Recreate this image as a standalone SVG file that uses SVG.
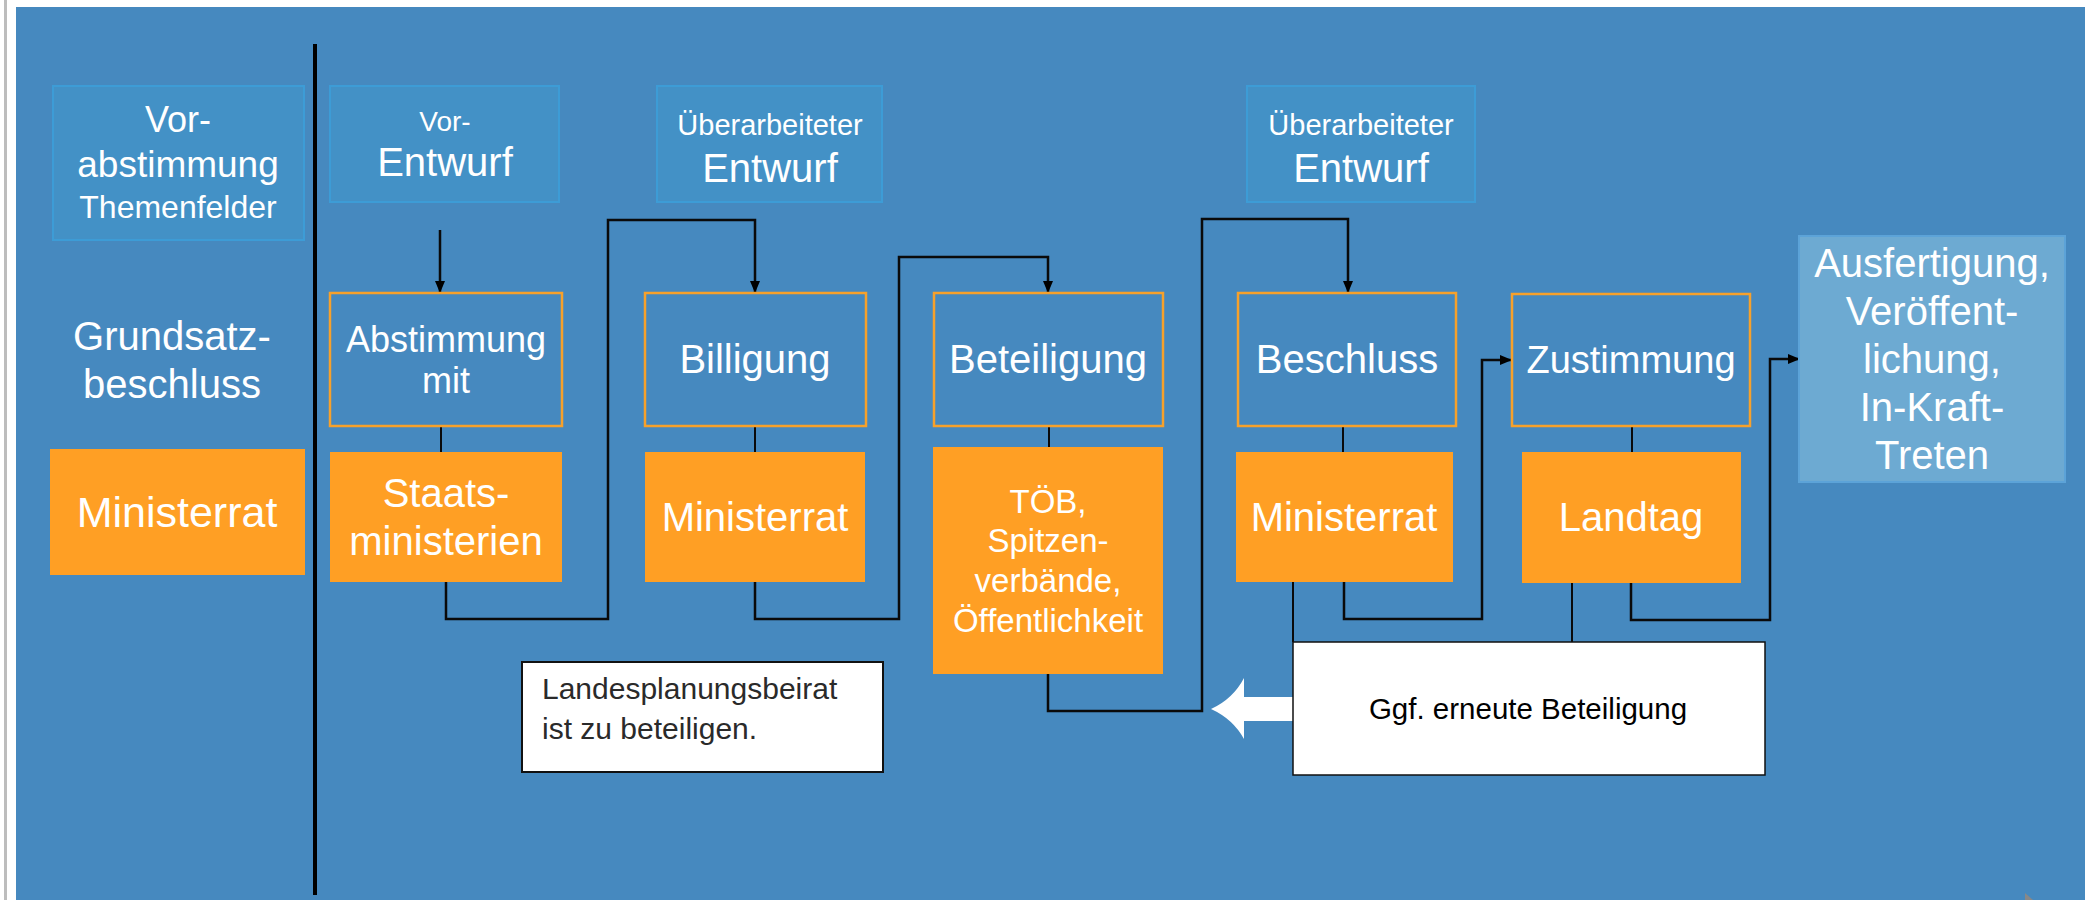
<svg xmlns="http://www.w3.org/2000/svg" width="2085" height="900" viewBox="0 0 2085 900">
<defs>
<marker id="ah" viewBox="0 0 12 10" refX="12" refY="5" markerWidth="12" markerHeight="10" markerUnits="userSpaceOnUse" orient="auto">
<path d="M0,0 L12,5 L0,10 Z" fill="#000"/>
</marker>
<style>
text{font-family:"Liberation Sans",Arial,Helvetica,sans-serif;fill:#fff;text-anchor:middle}
.top{fill:#4391C6;stroke:#3D9CD6;stroke-width:2}
.step{fill:#4689BF;stroke:#F7A12B;stroke-width:2.5}
.org{fill:#FF9F24}
.note{fill:#fff;stroke:#111;stroke-width:2}
.con{fill:none;stroke:#0a0a0a;stroke-width:2.5}
.tie{fill:none;stroke:#0a0a0a;stroke-width:2}
.dk{fill:#2a2a2a;text-anchor:start}
</style>
</defs>
<rect x="0" y="0" width="2085" height="900" fill="#fff"/>
<rect x="4" y="0" width="3" height="900" fill="#bdbdbd"/>
<rect x="16" y="7" width="2069" height="893" fill="#4689BF"/>
<polygon points="2025,893 2025,900 2033,900" fill="#888"/>

<line x1="315" y1="44" x2="315" y2="895" stroke="#000" stroke-width="4"/>

<g id="connectors">
<path class="con" d="M440,230 V293" marker-end="url(#ah)"/>
<path class="tie" d="M441,426 V452"/>
<path class="con" d="M446,582 V619 H608 V220 H755 V293" marker-end="url(#ah)"/>
<path class="tie" d="M755,426 V452"/>
<path class="con" d="M755,582 V619 H899 V257 H1048 V293" marker-end="url(#ah)"/>
<path class="tie" d="M1049,426 V448"/>
<path class="con" d="M1048,674 V711 H1202 V219 H1348 V293" marker-end="url(#ah)"/>
<path class="tie" d="M1343,426 V452"/>
<path class="con" d="M1344,582 V619 H1482 V360 H1512" marker-end="url(#ah)"/>
<path class="tie" d="M1632,426 V452"/>
<path class="con" d="M1631,583 V620 H1770 V359 H1800" marker-end="url(#ah)"/>
<path class="tie" d="M1293,582 V642"/>
<path class="tie" d="M1572,577 V642"/>
<path d="M1294,697 H1244 V678 Q1233,699 1211,709 Q1233,719 1244,739 V721 H1294 Z" fill="#fff"/>
</g>

<g id="vorabstimmung">
<rect class="top" x="53" y="86" width="251" height="154"/>
<text x="178" y="132" font-size="36">Vor-</text>
<text x="178" y="177" font-size="37">abstimmung</text>
<text x="178" y="218" font-size="32">Themenfelder</text>
</g>
<g id="grundsatz">
<text x="172" y="350" font-size="40">Grundsatz-</text>
<text x="172" y="398" font-size="40">beschluss</text>
</g>
<g id="ministerrat1">
<rect class="org" x="50" y="449" width="255" height="126"/>
<text x="177" y="527" font-size="43">Ministerrat</text>
</g>

<g id="vorentwurf">
<rect class="top" x="330" y="86" width="229" height="116"/>
<text x="445" y="131" font-size="28">Vor-</text>
<text x="445" y="176" font-size="40">Entwurf</text>
</g>
<g id="entwurf2">
<rect class="top" x="657" y="86" width="225" height="116"/>
<text x="770" y="135" font-size="29">Überarbeiteter</text>
<text x="770" y="182" font-size="40">Entwurf</text>
</g>
<g id="entwurf3">
<rect class="top" x="1247" y="86" width="228" height="116"/>
<text x="1361" y="135" font-size="29">Überarbeiteter</text>
<text x="1361" y="182" font-size="40">Entwurf</text>
</g>

<g id="abstimmung">
<rect class="step" x="330" y="293" width="232" height="133"/>
<text x="446" y="352" font-size="36">Abstimmung</text>
<text x="446" y="393" font-size="36">mit</text>
</g>
<g id="billigung">
<rect class="step" x="645" y="293" width="221" height="133"/>
<text x="755" y="373" font-size="40">Billigung</text>
</g>
<g id="beteiligung">
<rect class="step" x="934" y="293" width="229" height="133"/>
<text x="1048" y="373" font-size="40">Beteiligung</text>
</g>
<g id="beschluss">
<rect class="step" x="1238" y="293" width="218" height="133"/>
<text x="1347" y="373" font-size="40">Beschluss</text>
</g>
<g id="zustimmung">
<rect class="step" x="1512" y="294" width="238" height="132"/>
<text x="1631" y="373" font-size="38">Zustimmung</text>
</g>
<g id="ausfertigung">
<rect x="1799" y="236" width="266" height="246" fill="#6DAAD2" stroke="#5CA3D8" stroke-width="2"/>
<text x="1932" y="277" font-size="40">Ausfertigung,</text>
<text x="1932" y="325" font-size="40">Veröffent-</text>
<text x="1932" y="373" font-size="40">lichung,</text>
<text x="1932" y="421" font-size="40">In-Kraft-</text>
<text x="1932" y="469" font-size="40">Treten</text>
</g>

<g id="staatsministerien">
<rect class="org" x="330" y="452" width="232" height="130"/>
<text x="446" y="507" font-size="40">Staats-</text>
<text x="446" y="555" font-size="40">ministerien</text>
</g>
<g id="ministerrat2">
<rect class="org" x="645" y="452" width="220" height="130"/>
<text x="755" y="531" font-size="40">Ministerrat</text>
</g>
<g id="toeb">
<rect class="org" x="933" y="447" width="230" height="227"/>
<text x="1048" y="513" font-size="33">TÖB,</text>
<text x="1048" y="552" font-size="33">Spitzen-</text>
<text x="1048" y="592" font-size="33">verbände,</text>
<text x="1048" y="632" font-size="33">Öffentlichkeit</text>
</g>
<g id="ministerrat3">
<rect class="org" x="1236" y="452" width="217" height="130"/>
<text x="1344" y="531" font-size="40">Ministerrat</text>
</g>
<g id="landtag">
<rect class="org" x="1522" y="452" width="219" height="131"/>
<text x="1631" y="531" font-size="40">Landtag</text>
</g>

<g id="landesplanungsbeirat">
<rect class="note" x="522" y="662" width="361" height="110"/>
<text class="dk" x="542" y="699" font-size="30">Landesplanungsbeirat</text>
<text class="dk" x="542" y="739" font-size="30">ist zu beteiligen.</text>
</g>
<g id="erneute-beteiligung">
<rect x="1293" y="642" width="472" height="133" fill="#fff" stroke="#111" stroke-width="1.5"/>
<text x="1528" y="719" font-size="29.5" style="fill:#000">Ggf. erneute Beteiligung</text>
</g>
</svg>
